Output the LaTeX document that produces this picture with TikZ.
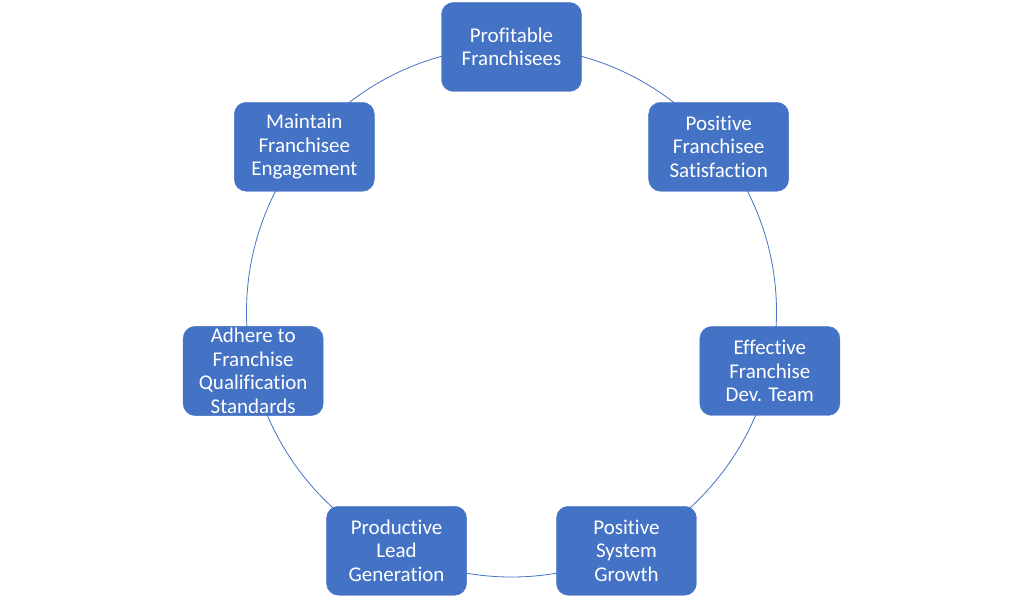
\documentclass[tikz,border=0pt]{standalone}
\usepackage{fontspec}
\setmainfont{Carlito}[Ligatures=NoCommon]
\definecolor{cycleblue}{HTML}{4472C4}
\usetikzlibrary{calc,positioning}

\begin{document}
\begin{tikzpicture}[
  x=1pt, y=1pt,
  font=\fontsize{21}{23.5}\selectfont,
  ring/.style={draw=cycleblue, line width=0.8pt},
  stage/.style={fill=cycleblue, draw=cycleblue, rounded corners=12pt, text=white,
    minimum width=140pt, minimum height=89pt, align=center, inner sep=2pt}
]

\useasboundingbox (0,0) rectangle (1024,600);

\def\R{265}
\coordinate (hub) at (511.5,288);

% Cycle ring behind the stages.
\draw[ring] (hub) circle[radius=\R];

% Stages, clockwise from the top.
\node[stage] (profit)  at ($(hub)+(90:\R)$)      {Profitable\\Franchisees};
\node[stage] (satisf)  at ($(hub)+(38.57:\R)$)   {Positive\\Franchisee\\Satisfaction};
\node[stage] (devteam) at ($(hub)+(-12.86:\R)$)  {Effective\\Franchise\\Dev. Team};
\node[stage] (growth)  at ($(hub)+(-64.29:\R)$)  {Positive\\System\\Growth};
\node[stage] (leads)   at ($(hub)+(-115.71:\R)$) {Productive\\Lead\\Generation};
\node[stage] (adhere)  at ($(hub)+(-167.14:\R)$) {Adhere to\\Franchise\\Qualification\\Standards};
\node[stage] (engage)  at ($(hub)+(141.43:\R)$)  {Maintain\\Franchisee\\Engagement};

\end{tikzpicture}
\end{document}
